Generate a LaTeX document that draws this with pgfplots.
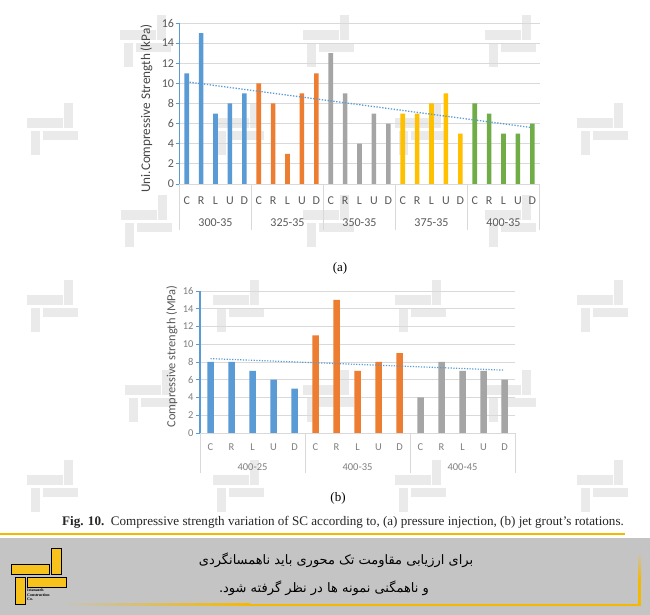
\documentclass[border=0pt]{standalone}
\usepackage{fontspec}
\setmainfont{Liberation Serif}
\newfontfamily\calib{Carlito}
\newfontfamily\fa[Script=Arabic]{DejaVu Sans}
\usepackage{pgfplots}
\pgfplotsset{compat=1.18}
\TeXXeTstate=1
\definecolor{cblue}{HTML}{5B9BD5}
\definecolor{corange}{HTML}{ED7D31}
\definecolor{cgrey}{HTML}{A5A5A5}
\definecolor{cgold}{HTML}{FFC000}
\definecolor{cgreen}{HTML}{70AD47}
\definecolor{gridc}{HTML}{D9D9D9}
\definecolor{axtext}{HTML}{595959}
\definecolor{axtextb}{HTML}{7F7F7F}
\definecolor{wmc}{HTML}{EAEAEA}
\definecolor{bannerg}{HTML}{C4C4C4}
\definecolor{logoy}{HTML}{F8C21C}
\definecolor{liney}{HTML}{F5B800}

\newcommand\wm[2]{%
  \fill[wmc] (#1pt,{(615-#2-15)*1pt}) rectangle ({(#1+36)*1pt},{(615-#2-25)*1pt});
  \fill[wmc] ({(#1+37)*1pt},{(615-#2)*1pt}) rectangle ({(#1+46)*1pt},{(615-#2-25)*1pt});
  \fill[wmc] ({(#1+16)*1pt},{(615-#2-28)*1pt}) rectangle ({(#1+51)*1pt},{(615-#2-37)*1pt});
  \fill[wmc] ({(#1+4)*1pt},{(615-#2-28)*1pt}) rectangle ({(#1+13)*1pt},{(615-#2-52)*1pt});
}

\pgfplotsset{
  mybase/.style={
    scale only axis, clip=false,
    ymin=0, ymax=16, ytick={0,2,...,16},
    axis x line*=bottom, axis y line*=left, axis line style={-},
    x axis line style={draw=gridc, line width=0.8pt},
    y axis line style={draw=cblue, line width=1.2pt},
    ymajorgrids, grid style={draw=gridc, line width=0.8pt},
    tick align=outside, major tick length=4pt,
    ytick style={draw=cblue, line width=0.8pt},
    xtick style={draw=none},
    /pgf/number format/assume math mode=true,
  },
}

\begin{document}
\begin{tikzpicture}
\path[use as bounding box] (0pt,0pt) rectangle (650pt,615pt);
\fill[white] (0pt,0pt) rectangle (650pt,615pt);

% watermarks
\wm{120}{15}\wm{303}{15}\wm{485}{15}
\wm{27}{103}\wm{213}{103}\wm{395}{103}\wm{577}{103}
\wm{121}{195}\wm{303}{195}\wm{485}{195}
\wm{27}{280}\wm{213}{280}\wm{395}{280}\wm{577}{280}
\wm{125}{370}\wm{303}{370}\wm{485}{370}
\wm{27}{460}\wm{213}{460}\wm{395}{460}\wm{577}{460}

% ---------------- chart (a)
\begin{scope}[shift={(179.5pt,431pt)}]
\begin{axis}[mybase,
  at={(0pt,0pt)}, anchor=south west,
  width=360pt, height=161pt,
  xmin=-0.5, xmax=24.5,
  xtick={0,...,24},
  xticklabels={C,R,L,U,D,C,R,L,U,D,C,R,L,U,D,C,R,L,U,D,C,R,L,U,D},
  yticklabel style={font=\calib\fontsize{12}{12}\selectfont, text=axtext, xshift=2pt},
  xticklabel style={font=\calib\fontsize{12}{12}\selectfont, text=axtext, anchor=center, yshift=-12.5pt},
  ylabel={Uni.Compressive Strength (kPa)},
  every axis y label/.style={at={(axis description cs:-0.0917,0.47)}, rotate=90, anchor=center,
     font=\calib\fontsize{13.2}{13.2}\selectfont, text=axtext!80!black},
]
\addplot[ybar, bar width=4.6pt, bar shift=0pt, fill=cblue, draw=none] coordinates {(0,11)(1,15)(2,7)(3,8)(4,9)};
\addplot[ybar, bar width=4.6pt, bar shift=0pt, fill=corange, draw=none] coordinates {(5,10)(6,8)(7,3)(8,9)(9,11)};
\addplot[ybar, bar width=4.6pt, bar shift=0pt, fill=cgrey, draw=none] coordinates {(10,13)(11,9)(12,4)(13,7)(14,6)};
\addplot[ybar, bar width=4.6pt, bar shift=0pt, fill=cgold, draw=none] coordinates {(15,7)(16,7)(17,8)(18,9)(19,5)};
\addplot[ybar, bar width=4.6pt, bar shift=0pt, fill=cgreen, draw=none] coordinates {(20,8)(21,7)(22,5)(23,5)(24,6)};
\addplot[sharp plot, no marks, color=cblue, line width=1.3pt, dash pattern=on 1.3pt off 1.6pt] coordinates {(0,10.16)(24,5.60)};
\foreach \xx in {-0.5,4.5,9.5,14.5,19.5,24.5}{
  \edef\tmp{\noexpand\draw[gridc, line width=0.8pt] (axis cs:\xx,0) -- ++(0pt,-46pt);}\tmp
}
\foreach \xx/\lab in {2/300-35,7/325-35,12/350-35,17/375-35,22/400-35}{
  \edef\tmp{\noexpand\node[font=\noexpand\calib\noexpand\fontsize{12}{12}\noexpand\selectfont, text=axtext] at ([yshift=-38.7pt]axis cs:\xx,0) {\lab};}\tmp
}
\end{axis}
\end{scope}
\node[font=\fontsize{13}{13}\selectfont] at (340pt,347pt) {(a)};

% ---------------- chart (b)
\begin{scope}[shift={(200pt,182pt)}]
\begin{axis}[mybase,
  at={(0pt,0pt)}, anchor=south west,
  width=315pt, height=142pt,
  xmin=-0.5, xmax=14.5,
  xtick={0,...,14},
  xticklabels={C,R,L,U,D,C,R,L,U,D,C,R,L,U,D},
  yticklabel style={font=\calib\fontsize{10.5}{10.5}\selectfont, text=axtextb, xshift=1pt},
  xticklabel style={font=\calib\fontsize{10.5}{10.5}\selectfont, text=axtextb, anchor=center, yshift=-10.5pt},
  ylabel={Compressive strength (MPa)},
  every axis y label/.style={at={(axis description cs:-0.0889,0.539)}, rotate=90, anchor=center,
     font=\calib\fontsize{12.4}{12.4}\selectfont, text=axtext},
]
\addplot[ybar, bar width=6.5pt, bar shift=0pt, fill=cblue, draw=none] coordinates {(0,8)(1,8)(2,7)(3,6)(4,5)};
\addplot[ybar, bar width=6.5pt, bar shift=0pt, fill=corange, draw=none] coordinates {(5,11)(6,15)(7,7)(8,8)(9,9)};
\addplot[ybar, bar width=6.5pt, bar shift=0pt, fill=cgrey, draw=none] coordinates {(10,4)(11,8)(12,7)(13,7)(14,6)};
\addplot[sharp plot, no marks, color=cblue, line width=1.2pt, dash pattern=on 1.2pt off 1.5pt] coordinates {(0,8.38)(14,7.08)};
\foreach \xx in {-0.5,4.5,9.5,14.5}{
  \edef\tmp{\noexpand\draw[gridc, line width=0.8pt] (axis cs:\xx,0) -- ++(0pt,-40pt);}\tmp
}
\foreach \xx/\lab in {2/400-25,7/400-35,12/400-45}{
  \edef\tmp{\noexpand\node[font=\noexpand\calib\noexpand\fontsize{10.5}{10.5}\noexpand\selectfont, text=axtextb] at ([yshift=-34pt]axis cs:\xx,0) {\lab};}\tmp
}
\end{axis}
\end{scope}
\node[font=\fontsize{13}{13}\selectfont] at (338pt,117pt) {(b)};

% caption
\node[font=\fontsize{13.1}{13.1}\selectfont, text=black!85] at (343pt,93pt) {\textbf{Fig. 10.}\ \ Compressive strength variation of SC according to, (a) pressure injection, (b) jet grout’s rotations.};

% banner
\fill[bannerg] (0pt,0pt) rectangle (650pt,77pt);
\draw[liney, line width=2.5pt] (0pt,81pt) -- (625pt,81pt);
\shade[left color=bannerg, right color=liney] (60pt,9pt) rectangle (250pt,11pt);
\fill[liney] (250pt,9pt) rectangle (641pt,11pt);
\shade[top color=bannerg, bottom color=liney] (638pt,63pt) rectangle (641pt,35pt);
\fill[liney] (638pt,35pt) rectangle (641pt,9pt);
% logo
\begin{scope}[line width=0.8pt]
\filldraw[fill=logoy, draw=black] (51pt,41pt) rectangle (61pt,67pt);
\filldraw[fill=logoy, draw=black] (11pt,41pt) rectangle (49pt,51pt);
\filldraw[fill=logoy, draw=black] (27pt,28pt) rectangle (66pt,38pt);
\filldraw[fill=logoy, draw=black] (15pt,11pt) rectangle (25pt,38pt);
\end{scope}
\node[anchor=north west, inner sep=0pt, align=left, font=\fontsize{4}{4.3}\selectfont\bfseries] at (27pt,26pt) {Istanazeh\\Construction\\Co.};
\node[font=\fa\fontsize{13}{13}\selectfont] at (336pt,55pt) {\beginR برای ارزیابی مقاومت تک محوری باید ناهمسانگردی\endR};
\node[font=\fa\fontsize{13}{13}\selectfont] at (324pt,27pt) {\beginR و ناهمگنی نمونه ها در نظر گرفته شود.\endR};
\end{tikzpicture}
\end{document}
